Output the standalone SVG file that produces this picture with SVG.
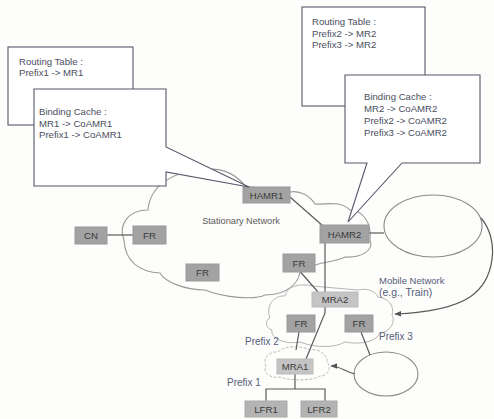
<svg xmlns="http://www.w3.org/2000/svg" width="494" height="419" viewBox="0 0 494 419">
<defs>
<marker id="ah" viewBox="0 0 10 10" refX="9" refY="5" markerWidth="7" markerHeight="7" orient="auto" markerUnits="userSpaceOnUse">
<path d="M0,1 L10,5 L0,9 Z" fill="#555"/>
</marker>
<style>
.bg{fill:#fdfdfb}
.cloud{fill:#fdfdfb;stroke:#9a9a9a;stroke-width:1.1}
.cloud2{fill:#fdfdfb;stroke:#b5b5b5;stroke-width:1}
.cloud3{fill:#fdfdfb;stroke:#bdbdbd;stroke-width:1;stroke-dasharray:3 1.5}
.ell{fill:#fdfdfb;stroke:#8a8a8a;stroke-width:1.1}
.box{fill:#fff;stroke:#55586a;stroke-width:1.1}
.bt{font-family:"Liberation Sans",Arial,sans-serif;font-size:9.6px;fill:#4a4e60}
.nd{fill:#a2a2a2;stroke:#999}
.nd2{fill:#c4c4c4;stroke:#bbb}
.nd3{fill:#b3b3b3;stroke:#aaa}
.nt{font-family:"Liberation Sans",Arial,sans-serif;font-size:9.6px;fill:#3a3a3a;text-anchor:middle}
.lb{font-family:"Liberation Sans",Arial,sans-serif;font-size:10px;fill:#55607a}
.ln{fill:none;stroke:#5a5a5a;stroke-width:1.2}
</style>
</defs>
<rect class="bg" x="0" y="0" width="494" height="419"/>

<g id="stationary-cloud">
<path class="cloud" d="M124,240 C118,225 128,210 148,210 C150,185 175,170 200,172 C215,165 235,172 245,186 L290,192 C300,190 310,196 315,204 C325,205 340,200 350,210 C362,210 372,222 370,240 C374,250 362,258 345,257 C335,262 322,262 315,265 L300,272 C298,285 285,295 265,295 C255,300 225,298 205,290 C185,290 165,282 160,273 C140,272 125,262 124,240 Z"/>
<text x="241" y="224" style="font-family:'Liberation Sans',Arial,sans-serif;font-size:9.2px;fill:#5a5a5a;text-anchor:middle">Stationary Network</text>
</g>

<g id="mobile-cloud">
<path class="cloud2" d="M270,318 C265,305 275,295 285,296 C287,286 300,283 312,286 L358,290 C365,288 375,290 378,297 C388,298 395,306 392,315 C396,322 390,332 380,333 C376,342 360,345 345,342 C335,348 315,348 300,342 C285,345 270,338 272,330 C265,328 265,320 270,318 Z"/>
</g>

<g id="mra1-cloud">
<path class="cloud3" d="M266,366 C262,358 270,351 278,352 C283,346 300,345 310,350 C320,348 328,356 327,362 C332,368 328,376 320,376 C312,381 290,381 280,377 C270,379 262,372 266,366 Z"/>
</g>

<g id="ellipse-top"><ellipse class="ell" cx="433" cy="226" rx="49" ry="31"/></g>
<g id="ellipse-bottom"><ellipse class="ell" cx="386" cy="374" rx="32" ry="22"/></g>

<g id="connectors">
<line class="ln" x1="107" y1="235" x2="133" y2="235"/>
<line class="ln" x1="290" y1="197" x2="323" y2="226"/>
<line class="ln" x1="369" y1="233" x2="384" y2="233"/>
<polyline class="ln" points="325,243 325,313 306,359"/>
<line class="ln" x1="297" y1="268" x2="318" y2="292"/>
<line class="ln" x1="299" y1="332" x2="296" y2="350"/>
<line class="ln" x1="361" y1="332" x2="370" y2="355"/>
<polyline class="ln" points="295,374 295,389"/>
<polyline class="ln" points="266,401 266,389 325,389 325,401"/>
<path class="ln" d="M481,218 C500,240 495,280 470,297 C450,310 420,313 395,314" marker-end="url(#ah)"/>
<path class="ln" d="M355,374 C345,372 340,366 331,366" marker-end="url(#ah)"/>
</g>

<g id="CN"><rect class="nd" x="75" y="227" width="32" height="17"/><text class="nt" x="91" y="239">CN</text></g>
<g id="FR1"><rect class="nd" x="133" y="226" width="33" height="18"/><text class="nt" x="149.5" y="239">FR</text></g>
<g id="FR2"><rect class="nd" x="186" y="264" width="33" height="17"/><text class="nt" x="202.5" y="276">FR</text></g>
<g id="FR3"><rect class="nd" x="283" y="254" width="32" height="18"/><text class="nt" x="299" y="267">FR</text></g>
<g id="HAMR1"><rect class="nd" x="243" y="187" width="47" height="16"/><text class="nt" x="266.5" y="199">HAMR1</text></g>
<g id="HAMR2"><rect class="nd" x="320" y="225" width="49" height="18"/><text class="nt" x="344.5" y="238">HAMR2</text></g>
<g id="MRA2"><rect class="nd2" x="312" y="292" width="46" height="15"/><text class="nt" x="335" y="303">MRA2</text></g>
<g id="FR4"><rect class="nd" x="287" y="315" width="28" height="17"/><text class="nt" x="301" y="327">FR</text></g>
<g id="FR5"><rect class="nd" x="345" y="315" width="28" height="17"/><text class="nt" x="359" y="327">FR</text></g>
<g id="MRA1"><rect class="nd2" x="277" y="359" width="36" height="15"/><text class="nt" x="295" y="370">MRA1</text></g>
<g id="LFR1"><rect class="nd3" x="245" y="401" width="42" height="16"/><text class="nt" x="266" y="413">LFR1</text></g>
<g id="LFR2"><rect class="nd3" x="301" y="401" width="36" height="16"/><text class="nt" x="319" y="413">LFR2</text></g>

<g id="labels">
<text class="lb" x="379" y="284" style="font-size:9.5px">Mobile Network</text>
<text class="lb" x="379" y="296" style="font-size:10.4px">(e.g., Train)</text>
<text class="lb" x="245" y="345">Prefix 2</text>
<text class="lb" x="379" y="340">Prefix 3</text>
<text class="lb" x="227" y="386">Prefix 1</text>
</g>

<g id="routing-table-1">
<rect class="box" x="8" y="47" width="125" height="78"/>
<text class="bt" x="19" y="65">Routing Table :</text>
<text class="bt" x="19" y="76">Prefix1 -&gt; MR1</text>
</g>
<g id="binding-cache-1">
<path class="box" d="M34,89 L166,89 L166,147 L249,187 L166,172 L166,186 L34,186 Z"/>
<text class="bt" x="39" y="115">Binding Cache :</text>
<text class="bt" x="39" y="126.5">MR1 -&gt; CoAMR1</text>
<text class="bt" x="39" y="138">Prefix1 -&gt; CoAMR1</text>
</g>
<g id="routing-table-2">
<rect class="box" x="302" y="7" width="123" height="99"/>
<text class="bt" x="312" y="25">Routing Table :</text>
<text class="bt" x="312" y="37">Prefix2 -&gt; MR2</text>
<text class="bt" x="312" y="48">Prefix3 -&gt; MR2</text>
</g>
<g id="binding-cache-2">
<path class="box" d="M345,75 L480,75 L480,163 L402,163 L348,222 L367,163 L345,163 Z"/>
<text class="bt" x="364" y="100">Binding Cache :</text>
<text class="bt" x="364" y="112">MR2 -&gt; CoAMR2</text>
<text class="bt" x="364" y="124">Prefix2 -&gt; CoAMR2</text>
<text class="bt" x="364" y="136">Prefix3 -&gt; CoAMR2</text>
</g>
</svg>
